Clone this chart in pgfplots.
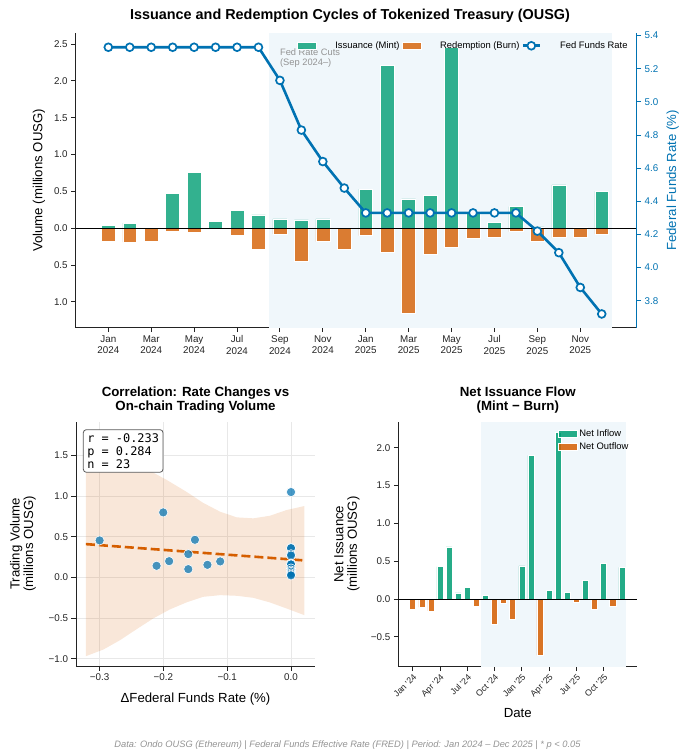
\documentclass[border=0pt]{standalone}
\usepackage{pgfplots}
\pgfplotsset{compat=1.18}
\usepackage{fontspec}
\setmainfont{Liberation Sans}
\setmonofont{DejaVu Sans Mono}
\definecolor{mint}{HTML}{009E73}
\definecolor{burn}{HTML}{D55E00}
\definecolor{rate}{HTML}{0072B2}
\definecolor{shade}{RGB}{240,247,251}
\definecolor{axc}{RGB}{35,35,35}
\pgfplotsset{
  base/.style={scale only axis,
    axis line style={-, line width=0.9pt, axc},
    tick align=outside, major tick length=4.5pt,
    tick style={line width=0.9pt, axc},
    ticklabel style={font=\fontsize{9.8}{11.5}\selectfont, text=axc},
    label style={font=\fontsize{13.2}{13.4}\selectfont, text=black},
    /pgf/number format/assume math mode=true},
  barlegend/.style={legend image code/.code={\draw[##1] (0pt,-3.4pt) rectangle (19pt,3.4pt);}},
}
\begin{document}
\begin{tikzpicture}
\path[use as bounding box] (0pt,0pt) rectangle (693pt,-756pt);
\node[font=\bfseries\fontsize{14.4}{16}\selectfont] at (350pt,-16pt) {Issuance and Redemption Cycles of Tokenized Treasury (OUSG)};

% ---------------- top chart, volume axis
\begin{axis}[base, at={(75.7pt,-33pt)}, anchor=north west, width=561pt, height=294.7pt,
  xmin=-1.52, xmax=24.63, ymin=-1.35, ymax=2.65,
  axis x line*=bottom, axis y line*=left,
  xtick={0,2,4,6,8,10,12,14,16,18,20,22},
  xticklabels={Jan\\2024,Mar\\2024,May\\2024,Jul\\2024,Sep\\2024,Nov\\2024,Jan\\2025,Mar\\2025,May\\2025,Jul\\2025,Sep\\2025,Nov\\2025},
  xticklabel style={align=center},
  ytick={-1,-0.5,0,0.5,1,1.5,2,2.5},
  yticklabels={1.0,0.5,0.0,0.5,1.0,1.5,2.0,2.5},
  ylabel={Volume (millions OUSG)},
  ylabel style={at={(axis description cs:-0.0654,0.5)}, anchor=center},
]
\addplot[draw=none, fill=shade] coordinates {(7.5,-1.35) (23.5,-1.35) (23.5,2.65) (7.5,2.65)} -- cycle;
\addplot[ybar, bar width=0.65, bar shift=0pt, fill=mint, fill opacity=0.8, draw=white, line width=0.5pt]
 coordinates {(0,0.04) (1,0.07) (3,0.47) (4,0.755) (5,0.09) (6,0.24) (7,0.18) (8,0.127) (9,0.113) (10,0.127)
 (12,0.53) (13,2.21) (14,0.40) (15,0.45) (16,2.45) (17,0.225) (18,0.08) (19,0.293) (20,0.02) (21,0.59) (22,0.014) (23,0.50)};
\addplot[ybar, bar width=0.65, bar shift=0pt, fill=burn, fill opacity=0.8, draw=white, line width=0.5pt]
 coordinates {(0,-0.18) (1,-0.19) (2,-0.17) (3,-0.04) (4,-0.06) (5,-0.01) (6,-0.09) (7,-0.29) (8,-0.077) (9,-0.448) (10,-0.18) (11,-0.28)
 (12,-0.10) (13,-0.32) (14,-1.16) (15,-0.35) (16,-0.26) (17,-0.135) (18,-0.125) (19,-0.046) (20,-0.18) (21,-0.127) (22,-0.118) (23,-0.08)};
\addplot[black, line width=0.9pt] coordinates {(-1.52,0) (24.63,0)};
\node[anchor=north west, align=left, text=gray!85, font=\fontsize{9.3}{10.3}\selectfont, inner sep=0pt] at (axis cs:8.0,2.44) {Fed Rate Cuts\\(Sep 2024--)};
\end{axis}

% ---------------- top chart, rate axis
\begin{axis}[base, at={(75.7pt,-33pt)}, anchor=north west, width=561pt, height=294.7pt,
  xmin=-1.52, xmax=24.63, ymin=3.637, ymax=5.416,
  axis x line=none, axis y line*=right,
  y axis line style={rate, line width=0.9pt},
  ytick style={rate, line width=0.9pt},
  yticklabel style={text=rate},
  ytick={3.8,4.0,4.2,4.4,4.6,4.8,5.0,5.2,5.4},
  yticklabels={3.8,4.0,4.2,4.4,4.6,4.8,5.0,5.2,5.4},
  ylabel={Federal Funds Rate (\%)},
  ylabel style={at={(axis description cs:1.064,0.5)}, anchor=center, text=rate},
  legend style={at={(0.993,0.985)}, anchor=north east, draw=none, fill=none,
    font=\fontsize{9.4}{11}\selectfont, legend columns=3,
    /tikz/every odd column/.append style={column sep=17pt}},
  legend cell align=left,
]
\addlegendimage{barlegend, fill=mint, fill opacity=0.8, draw=white, line width=0.5pt}
\addlegendentry{Issuance (Mint)}
\addlegendimage{barlegend, fill=burn, fill opacity=0.8, draw=white, line width=0.5pt}
\addlegendentry{Redemption (Burn)}
\addplot[rate, line width=2.6pt, mark=*, mark size=3.9pt, mark options={fill=white, draw=rate, line width=1.7pt}]
 coordinates {(0,5.33) (1,5.33) (2,5.33) (3,5.33) (4,5.33) (5,5.33) (6,5.33) (7,5.33) (8,5.13) (9,4.83) (10,4.64) (11,4.48)
 (12,4.33) (13,4.33) (14,4.33) (15,4.33) (16,4.33) (17,4.33) (18,4.33) (19,4.33) (20,4.22) (21,4.09) (22,3.88) (23,3.72)};
\addlegendentry{Fed Funds Rate}
\end{axis}

% ---------------- bottom left scatter
\begin{axis}[base, at={(76pt,-421.7pt)}, anchor=north west, width=239pt, height=244.3pt,
  xmin=-0.337, xmax=0.0376, ymin=-1.09, ymax=1.916,
  axis x line*=bottom, axis y line*=left,
  xtick={-0.3,-0.2,-0.1,0}, xticklabels={−0.3,−0.2,−0.1,0.0},
  ytick={-1,-0.5,0,0.5,1,1.5}, yticklabels={−1.0,−0.5,0.0,0.5,1.0,1.5},
  grid=major, grid style={gray!18, line width=0.6pt},
  xlabel={ΔFederal Funds Rate (\%)},
  xlabel style={at={(axis description cs:0.5,-0.135)}, anchor=center},
  ylabel={Trading Volume\\(millions OUSG)},
  ylabel style={at={(axis description cs:-0.222,0.5)}, anchor=center, align=center},
  title={Correlation: Rate Changes vs\\On-chain Trading Volume},
  title style={at={(axis description cs:0.5,1)}, anchor=south, yshift=-1pt, align=center, font=\bfseries\fontsize{13.3}{13.6}\selectfont},
]
\addplot[draw=none, fill=burn, fill opacity=0.15] coordinates {
 (-0.3215,1.72) (-0.29,1.60) (-0.26,1.48) (-0.23,1.35) (-0.195,1.20) (-0.164,1.054) (-0.138,0.919) (-0.111,0.808)
 (-0.085,0.739) (-0.059,0.727) (-0.033,0.759) (-0.007,0.829) (0.0208,0.878)
 (0.0208,-0.464) (-0.007,-0.382) (-0.033,-0.308) (-0.059,-0.251) (-0.085,-0.226) (-0.111,-0.218) (-0.138,-0.239)
 (-0.164,-0.308) (-0.190,-0.394) (-0.216,-0.505) (-0.242,-0.637) (-0.268,-0.772) (-0.294,-0.887) (-0.3215,-0.969)} -- cycle;
\addplot[burn, line width=2.6pt, dash pattern=on 9pt off 4pt] coordinates {(-0.3215,0.41) (0.0208,0.209)};
\addplot[only marks, mark=*, mark size=4.6pt, mark options={fill=rate, fill opacity=0.72, draw=white, line width=0.6pt}]
 coordinates {(-0.30,0.455) (-0.2003,0.80) (-0.2107,0.143) (-0.191,0.20) (-0.161,0.287) (-0.1506,0.463) (-0.161,0.102) (-0.131,0.155) (-0.111,0.197)
 (0,1.05) (0,0.365) (0,0.36) (0,0.285) (0,0.27) (0,0.17) (0,0.165) (0,0.16) (0,0.11) (0,0.085) (0,0.07) (0,0.05) (0,0.035) (0,0.025)};
\node[anchor=north west, draw=gray!70!black, line width=0.8pt, rounded corners=3pt, fill=white, align=left,
  font=\ttfamily\fontsize{11.9}{13.3}\selectfont, inner xsep=4pt, inner ysep=3.5pt] at (axis description cs:0.029,0.969)
  {r = -0.233\\p = 0.284\\n = 23};
\end{axis}

% ---------------- bottom right net flow
\begin{axis}[base, at={(398.3pt,-421.7pt)}, anchor=north west, width=239pt, height=245pt,
  xmin=-1.58, xmax=24.7, ymin=-0.895, ymax=2.345,
  axis x line*=bottom, axis y line*=left,
  xtick={0,3,6,9,12,15,18,21},
  xticklabels={Jan \textquotesingle24,Apr \textquotesingle24,Jul \textquotesingle24,Oct \textquotesingle24,Jan \textquotesingle25,Apr \textquotesingle25,Jul \textquotesingle25,Oct \textquotesingle25},
  xticklabel style={rotate=45, anchor=north east, font=\fontsize{8.8}{10}\selectfont, inner sep=1.5pt},
  ytick={-0.5,0,0.5,1,1.5,2}, yticklabels={−0.5,0.0,0.5,1.0,1.5,2.0},
  xlabel={Date},
  xlabel style={at={(axis description cs:0.5,-0.189)}, anchor=center},
  ylabel={Net Issuance\\(millions OUSG)},
  ylabel style={at={(axis description cs:-0.215,0.5)}, anchor=center, align=center},
  title={Net Issuance Flow\\(Mint − Burn)},
  title style={at={(axis description cs:0.5,1)}, anchor=south, yshift=-1pt, align=center, font=\bfseries\fontsize{13.3}{13.6}\selectfont},
  legend style={at={(0.985,0.985)}, anchor=north east, draw=none, fill=none,
    font=\fontsize{9.4}{11}\selectfont, row sep=1pt},
  legend cell align=left,
]
\addplot[draw=none, fill=shade, forget plot] coordinates {(7.5,-0.895) (23.5,-0.895) (23.5,2.345) (7.5,2.345)} -- cycle;
\addplot[ybar, bar width=0.66, bar shift=0pt, fill=mint, fill opacity=0.85, draw=white, line width=0.5pt, barlegend]
 coordinates {(3,0.43) (4,0.69) (5,0.08) (6,0.15) (8,0.05) (12,0.44) (13,1.90) (15,0.11) (16,2.20) (17,0.09) (19,0.25) (21,0.47) (23,0.42)};
\addlegendentry{Net Inflow}
\addplot[ybar, bar width=0.66, bar shift=0pt, fill=burn, fill opacity=0.85, draw=white, line width=0.5pt, barlegend]
 coordinates {(0,-0.13) (1,-0.11) (2,-0.155) (7,-0.10) (9,-0.33) (10,-0.05) (11,-0.27) (14,-0.745) (18,-0.04) (20,-0.14) (22,-0.09)};
\addlegendentry{Net Outflow}
\addplot[black, line width=0.9pt, forget plot] coordinates {(-1.58,0) (24.7,0)};
\end{axis}

\node[font=\itshape\fontsize{9.3}{10}\selectfont, text=gray!85] at (347.5pt,-745pt)
 {Data: Ondo OUSG (Ethereum) | Federal Funds Effective Rate (FRED) | Period: Jan 2024 – Dec 2025 | * p < 0.05};
\end{tikzpicture}
\end{document}
